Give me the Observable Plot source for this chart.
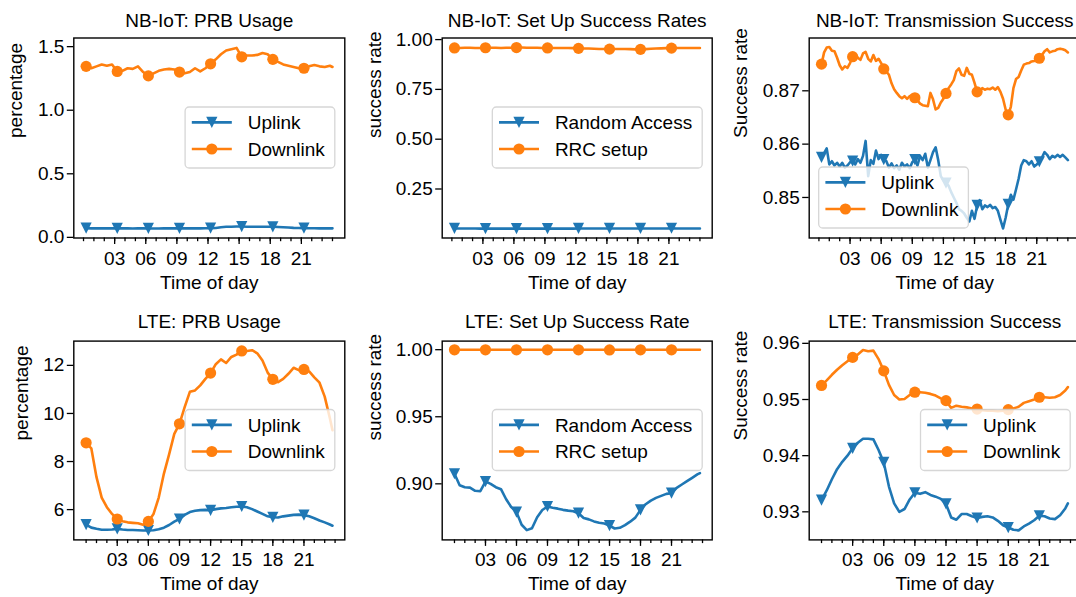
<!DOCTYPE html>
<html><head><meta charset="utf-8">
<script src="https://cdn.jsdelivr.net/npm/d3@7"></script>
<script src="https://cdn.jsdelivr.net/npm/@observablehq/plot@0.6"></script>
<style>
html,body{margin:0;padding:0;background:#fff;overflow:hidden;}
#wrap{position:relative;width:1076px;height:597px;overflow:hidden;background:#fff;}
#wrap svg{position:absolute;overflow:visible;}
</style></head><body><div id="wrap"></div><script>
// ---------- data ----------
// NB-IoT: 30-min samples at 00:15, 00:45, ... 23:45, plus 24:00
const nbHours = d3.range(0.25, 24, 0.5).concat([24]);
// NB-IoT transmission: 15-min samples 00:15 ... 24:00
const nbHours15 = d3.range(1, 97).map(i => i * 0.25);
// LTE: 30-min samples 00:00 ... 23:30 plus 23:45
const lteHours = d3.range(0, 24, 0.5).concat([23.75]);

const nbPrbUplink = [0.072,0.071,0.071,0.072,0.071,0.071, 0.071,0.071,0.071,0.070,0.071,0.071,
  0.070,0.070,0.070,0.071,0.071,0.071, 0.071,0.071,0.071,0.071,0.071,0.072,
  0.073,0.074,0.080,0.083,0.084,0.085, 0.085,0.084,0.084,0.083,0.083,0.084,
  0.083,0.081,0.079,0.077,0.075,0.074, 0.073,0.072,0.072,0.071,0.071,0.071, 0.071];
const nbPrbDownlink = [1.345,1.33,1.345,1.36,1.35,1.36, 1.305,1.31,1.33,1.325,1.345,1.30,
  1.27,1.29,1.31,1.32,1.325,1.32, 1.30,1.29,1.30,1.33,1.305,1.33,
  1.365,1.40,1.44,1.47,1.48,1.49, 1.42,1.43,1.43,1.435,1.45,1.44,
  1.40,1.38,1.36,1.35,1.34,1.33, 1.33,1.345,1.355,1.345,1.34,1.35, 1.34];

const nbRandomAccess = [0.052,0.052,0.052,0.052,0.052,0.051, 0.051,0.051,0.051,0.051,0.051,0.051,
  0.051,0.051,0.051,0.051,0.051,0.051, 0.051,0.051,0.051,0.051,0.051,0.051,
  0.052,0.052,0.052,0.052,0.052,0.052, 0.052,0.052,0.052,0.052,0.052,0.052,
  0.052,0.052,0.052,0.052,0.052,0.052, 0.053,0.052,0.052,0.052,0.052,0.052, 0.052];
const nbRrcSetup = [0.958,0.958,0.959,0.959,0.958,0.958, 0.959,0.959,0.959,0.958,0.959,0.959,
  0.960,0.960,0.959,0.959,0.959,0.958, 0.958,0.958,0.958,0.958,0.958,0.957,
  0.956,0.955,0.955,0.954,0.953,0.953, 0.952,0.953,0.953,0.953,0.952,0.951,
  0.951,0.952,0.954,0.955,0.956,0.957, 0.957,0.958,0.958,0.958,0.958,0.958, 0.958];

const nbTxUplink = [0.8575,0.8583,0.8592,0.8562,0.8568,0.8560,0.8565,0.8558,
  0.8565,0.8556,0.8560,0.8566,0.8568,0.8562,0.8572,0.8565,
  0.8578,0.8606,0.8540,0.8570,0.8563,0.8588,0.8572,0.8580,
  0.8571,0.8568,0.8556,0.8564,0.8555,0.8560,0.8552,0.8565,
  0.8558,0.8562,0.8555,0.8566,0.8571,0.8560,0.8578,0.8570,
  0.8582,0.8556,0.8570,0.8585,0.8594,0.8570,0.8540,0.8532,
  0.8527,0.8522,0.8510,0.8500,0.8490,0.8478,0.8475,0.8470,
  0.8462,0.8455,0.8475,0.8460,0.8485,0.8495,0.8478,0.8485,
  0.8482,0.8486,0.8480,0.8482,0.8475,0.8458,0.8442,0.8462,
  0.8487,0.8505,0.8496,0.8515,0.8535,0.8560,0.8570,0.8568,
  0.8562,0.8568,0.8558,0.8562,0.8567,0.8575,0.8585,0.8580,
  0.8572,0.8578,0.8575,0.8580,0.8576,0.8580,0.8575,0.8570];
const nbTxDownlink = [0.8750,0.8772,0.8781,0.8782,0.8775,0.8774,0.8762,0.8748,
  0.8740,0.8746,0.8743,0.8752,0.8764,0.8768,0.8762,0.8758,
  0.8770,0.8773,0.8760,0.8755,0.8767,0.8756,0.8760,0.8752,
  0.8741,0.8736,0.8730,0.8714,0.8703,0.8696,0.8690,0.8686,
  0.8690,0.8685,0.8690,0.8692,0.8687,0.8682,0.8676,0.8673,
  0.8672,0.8671,0.8696,0.8684,0.8665,0.8668,0.8678,0.8685,
  0.8695,0.8705,0.8712,0.8720,0.8737,0.8742,0.8730,0.8728,
  0.8743,0.8732,0.8730,0.8715,0.8698,0.8700,0.8705,0.8702,
  0.8704,0.8703,0.8706,0.8702,0.8707,0.8698,0.8685,0.8665,
  0.8655,0.8670,0.8705,0.8722,0.8726,0.8738,0.8749,0.8751,
  0.8752,0.8755,0.8756,0.8758,0.8761,0.8767,0.8774,0.8778,
  0.8772,0.8774,0.8775,0.8778,0.8779,0.8778,0.8776,0.8772];

const ltePrbUplink = [5.375,5.25,5.20,5.16,5.16,5.17, 5.20,5.17,5.15,5.15,5.14,5.13,
  5.13,5.14,5.18,5.25,5.36,5.50, 5.61,5.78,5.90,5.95,5.98,5.99,
  5.97,6.02,6.05,6.07,6.10,6.12, 6.13,6.10,6.02,5.92,5.82,5.72,
  5.68,5.67,5.72,5.75,5.78,5.79, 5.77,5.72,5.64,5.55,5.47,5.38, 5.33];
const ltePrbDownlink = [8.78,8.55,7.35,6.50,6.10,5.82, 5.61,5.52,5.47,5.45,5.43,5.37,
  5.51,5.82,6.50,7.50,8.30,9.15, 9.57,10.26,10.90,10.96,11.17,11.44,
  11.68,12.05,12.25,12.10,12.35,12.45, 12.60,12.60,12.63,12.50,12.20,11.70,
  11.42,11.30,11.44,11.65,11.90,11.80, 11.83,11.75,11.50,11.28,10.70,9.80, 9.30];

const lteRandomAccess = [0.9075,0.8990,0.8975,0.8972,0.8948,0.8945, 0.9017,0.9000,0.8975,0.8960,0.8885,0.8826,
  0.8789,0.8695,0.8655,0.8669,0.8751,0.8805, 0.8831,0.8822,0.8815,0.8806,0.8800,0.8796,
  0.8781,0.8745,0.8735,0.8720,0.8710,0.8704, 0.8689,0.8667,0.8672,0.8692,0.8718,0.8748,
  0.8806,0.8848,0.8875,0.8895,0.8910,0.8925, 0.8930,0.8970,0.8995,0.9020,0.9045,0.9070, 0.9080];
const lteRrcSetup = [0.9999,0.9999,0.9999,0.9999,0.9999,0.9999, 0.9999,0.9999,0.9999,0.9999,0.9999,0.9999,
  0.9999,0.9999,0.9999,0.9999,0.9999,0.9999, 0.9999,0.9999,0.9999,0.9999,0.9999,0.9999,
  0.9999,0.9999,0.9999,0.9999,0.9999,0.9999, 0.9998,0.9999,0.9999,0.9999,0.9999,0.9999,
  0.9999,0.9999,0.9999,0.9999,0.9999,0.9999, 0.9999,0.9999,0.9999,0.9999,0.9999,0.9999, 0.9999];

const lteTxUplink = [0.9321,0.9338,0.9358,0.9376,0.9389,0.9400, 0.9413,0.9423,0.9430,0.9430,0.9429,0.9410,
  0.9388,0.9345,0.9315,0.9300,0.9305,0.9322, 0.9334,0.9332,0.9335,0.9330,0.9327,0.9323,
  0.9314,0.9290,0.9286,0.9296,0.9296,0.9292, 0.9289,0.9291,0.9292,0.9290,0.9284,0.9276,
  0.9272,0.9268,0.9267,0.9274,0.9279,0.9285, 0.9293,0.9292,0.9288,0.9287,0.9294,0.9306, 0.9315];
const lteTxDownlink = [0.9525,0.9534,0.9544,0.9553,0.9561,0.9568, 0.9575,0.9580,0.9588,0.9586,0.9587,0.9572,
  0.9551,0.9526,0.9508,0.9500,0.9501,0.9508, 0.9513,0.9513,0.9512,0.9510,0.9507,0.9502,
  0.9498,0.9485,0.9489,0.9487,0.9486,0.9484, 0.9483,0.9481,0.9480,0.9480,0.9479,0.9480,
  0.9482,0.9484,0.9487,0.9494,0.9497,0.9500, 0.9504,0.9504,0.9503,0.9504,0.9508,0.9516, 0.9522];

const majorHours = [3, 6, 9, 12, 15, 18, 21];
const minorHours = d3.range(0, 25);

// ---------- styling ----------
const FONT = '"Liberation Sans", Arial, Helvetica, sans-serif';
const FS = 19;
const BLUE = "#1f77b4", ORANGE = "#ff7f0e";
const LW = 2.6;
const MR = 5.6;
const triDown = {draw(ctx, size) { const r = Math.sqrt(size / Math.PI); ctx.moveTo(-r, -r); ctx.lineTo(r, -r); ctx.lineTo(0, r); ctx.closePath(); }};
const circ = {draw(ctx, size) { const r = Math.sqrt(size / Math.PI); ctx.moveTo(r, 0); ctx.arc(0, 0, r, 0, 2 * Math.PI); }};

const NBX = [-0.9375, 25.1875], LTEX = [-1.1875, 24.9375];
const f1 = d3.format(".1f"), f2 = d3.format(".2f"), f0 = d3.format("d");

const panels = [
  {left: 0, top: 0, w: 358, h: 300, fl: 73.3, ft: 37.5, fw: 271, fh: 200, tdy: -11,
   title: "NB-IoT: PRB Usage", ylabel: "percentage", ylx: -58, ydom: [-0.005, 1.568], yticks: [0, 0.5, 1.0, 1.5], yfmt: f1, xdom: NBX, moff: 0.25,
   series: [{name: "Uplink", hours: nbHours, values: nbPrbUplink, color: BLUE, sym: triDown},
            {name: "Downlink", hours: nbHours, values: nbPrbDownlink, color: ORANGE, sym: circ}], legend: "cr"},
  {left: 358, top: 0, w: 358, h: 300, fl: 83.7, ft: 37.5, fw: 270, fh: 200, tdy: -11,
   title: "NB-IoT: Set Up Success Rates", ylabel: "success rate", ylx: -67, ydom: [0.004, 1.008], yticks: [0.25, 0.5, 0.75, 1.0], yfmt: f2, xdom: NBX, moff: 0.25,
   series: [{name: "Random Access", hours: nbHours, values: nbRandomAccess, color: BLUE, sym: triDown},
            {name: "RRC setup", hours: nbHours, values: nbRrcSetup, color: ORANGE, sym: circ}], legend: "cr"},
  {left: 716, top: 0, w: 370, h: 300, fl: 92.7, ft: 37.5, fw: 271, fh: 200, tdy: -11,
   title: "NB-IoT: Transmission Success", ylabel: "Success rate", ylx: -68, ydom: [0.8424, 0.8799], yticks: [0.85, 0.86, 0.87], yfmt: f2, xdom: NBX, moff: 0.25,
   series: [{name: "Uplink", hours: nbHours15, values: nbTxUplink, color: BLUE, sym: triDown},
            {name: "Downlink", hours: nbHours15, values: nbTxDownlink, color: ORANGE, sym: circ}], legend: "ll"},
  {left: 0, top: 300, w: 358, h: 297, fl: 73.3, ft: 40.6, fw: 271, fh: 198.8, tdy: -13,
   title: "LTE: PRB Usage", ylabel: "percentage", ylx: -51.5, ydom: [4.74, 13.01], yticks: [6, 8, 10, 12], yfmt: f0, xdom: LTEX, moff: 0,
   series: [{name: "Uplink", hours: lteHours, values: ltePrbUplink, color: BLUE, sym: triDown},
            {name: "Downlink", hours: lteHours, values: ltePrbDownlink, color: ORANGE, sym: circ}], legend: "cr"},
  {left: 358, top: 300, w: 358, h: 297, fl: 83.7, ft: 40.6, fw: 270, fh: 198.8, tdy: -13,
   title: "LTE: Set Up Success Rate", ylabel: "success rate", ylx: -67, ydom: [0.8582, 1.0064], yticks: [0.90, 0.95, 1.00], yfmt: f2, xdom: LTEX, moff: 0,
   series: [{name: "Random Access", hours: lteHours, values: lteRandomAccess, color: BLUE, sym: triDown},
            {name: "RRC setup", hours: lteHours, values: lteRrcSetup, color: ORANGE, sym: circ}], legend: "cr"},
  {left: 716, top: 300, w: 370, h: 297, fl: 92.7, ft: 40.6, fw: 271, fh: 198.8, tdy: -13,
   title: "LTE: Transmission Success", ylabel: "Success rate", ylx: -68, ydom: [0.925, 0.9604], yticks: [0.93, 0.94, 0.95, 0.96], yfmt: f2, xdom: LTEX, moff: 0,
   series: [{name: "Uplink", hours: lteHours, values: lteTxUplink, color: BLUE, sym: triDown},
            {name: "Downlink", hours: lteHours, values: lteTxDownlink, color: ORANGE, sym: circ}], legend: "cr"}
];

const wrap = document.getElementById("wrap");

function isMarker(h, off) {
  if (h >= 23.9) return false;
  const k = (h - off) / 3;
  return Math.abs(k - Math.round(k)) < 1e-6;
}

panels.forEach(p => {
  const marks = [
    Plot.axisX({ticks: minorHours, tickFormat: () => "", tickSize: 3.7, strokeWidth: 1.3, label: null}),
    Plot.axisX({ticks: majorHours, tickFormat: d => (d < 10 ? "0" : "") + d, tickSize: 6.5, tickPadding: 6.5, strokeWidth: 1.3, label: null, fontSize: FS}),
    Plot.axisY({ticks: p.yticks, tickFormat: p.yfmt, tickSize: 6.5, tickPadding: 3, strokeWidth: 1.3, label: null, fontSize: FS})
  ];
  p.series.forEach(s => {
    const pts = s.hours.map((h, i) => ({h, v: s.values[i]}));
    marks.push(Plot.line(pts, {x: "h", y: "v", stroke: s.color, strokeWidth: LW, strokeLinejoin: "round"}));
    marks.push(Plot.dot(pts.filter(d => isMarker(d.h, p.moff)), {x: "h", y: "v", r: MR, fill: s.color, symbol: s.sym}));
  });
  marks.push(Plot.frame({stroke: "black", strokeWidth: 1.4}));
  marks.push(Plot.text([p.title], {frameAnchor: "top", lineAnchor: "bottom", dy: p.tdy, fontSize: FS}));
  marks.push(Plot.text(["Time of day"], {frameAnchor: "bottom", lineAnchor: "bottom", dy: 50.5, fontSize: FS}));
  marks.push(Plot.text([p.ylabel], {frameAnchor: "left", rotate: -90, dx: p.ylx, fontSize: FS}));

  const svg = Plot.plot({
    width: p.w, height: p.h,
    marginLeft: p.fl, marginTop: p.ft,
    marginRight: p.w - p.fl - p.fw, marginBottom: p.h - p.ft - p.fh,
    x: {domain: p.xdom, label: null},
    y: {domain: p.ydom, label: null},
    style: {fontFamily: FONT, fontSize: FS + "px", color: "black", background: "transparent", overflow: "visible"},
    marks
  });
  svg.style.left = p.left + "px";
  svg.style.top = p.top + "px";
  wrap.appendChild(svg);

  // legend (matplotlib style box)
  const g = d3.select(svg).append("g").attr("font-family", FONT).attr("font-size", FS).attr("text-anchor", "start");
  const box = g.append("rect");
  const items = p.series.map(s => {
    const gi = g.append("g");
    gi.append("line").attr("x1", 6.7).attr("x2", 46.7).attr("stroke", s.color).attr("stroke-width", LW);
    gi.append("path").attr("d", d3.symbol(s.sym, MR * MR * Math.PI)()).attr("transform", "translate(26.7,0)").attr("fill", s.color);
    gi.append("text").attr("x", 62.6).attr("dy", "0.36em").attr("text-anchor", "start").attr("fill", "black").text(s.name);
    return gi;
  });
  const tw = d3.max(items, gi => gi.select("text").node().getComputedTextLength());
  const bw = 62.6 + tw + 10, bh = 61;
  let bx, by;
  if (p.legend === "cr") { bx = p.fl + p.fw - 9.5 - bw; by = p.ft + p.fh / 2 - bh / 2; }
  else { bx = p.fl + 10; by = p.ft + p.fh - 9.5 - bh; }
  box.attr("x", bx).attr("y", by).attr("width", bw).attr("height", bh).attr("rx", 4)
     .attr("fill", "white").attr("fill-opacity", 0.8).attr("stroke", "#cccccc").attr("stroke-opacity", 0.8).attr("stroke-width", 1.3);
  items.forEach((gi, i) => gi.attr("transform", `translate(${bx},${by + 15.4 + i * 26.6})`));
});
</script></body></html>
